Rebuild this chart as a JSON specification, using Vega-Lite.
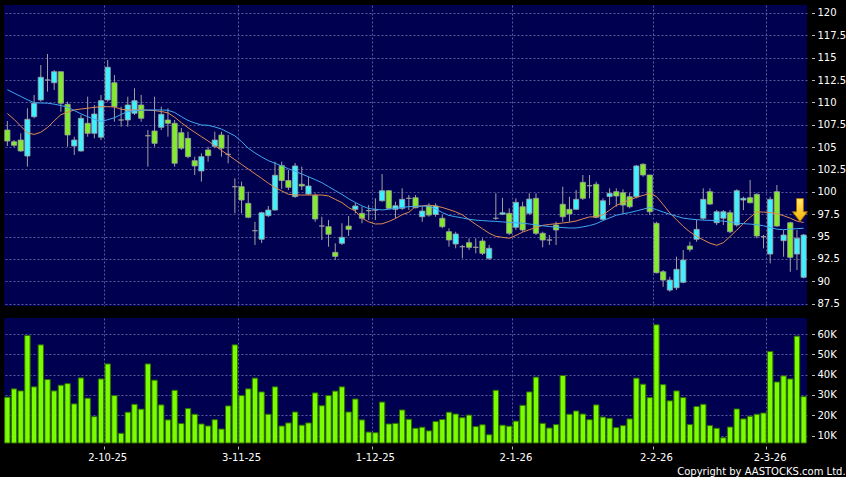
{
"$schema": "https://vega.github.io/schema/vega-lite/v6.json",
"background": "#000000",
"padding": {"left": 4, "top": 5, "right": 0, "bottom": 0},
"spacing": 9,
"title": {"text": "Copyright by AASTOCKS.com Ltd.", "orient": "bottom", "anchor": "end", "frame": "bounds", "color": "#ffffff", "fontSize": 10, "fontWeight": "normal", "font": "DejaVu Sans", "offset": 5, "dx": 0},
"datasets": {
"signal": [{"d": "2026-03-06", "p": 97.96}],
"bars": [
{"d":"2025-09-10","o":106.91,"h":107.92,"l":105.12,"c":105.68,"m10":108.76,"m20":111.42,"v":28900},
{"d":"2025-09-11","o":105.60,"h":105.79,"l":105.01,"c":105.20,"m10":108.11,"m20":111.04,"v":33000},
{"d":"2025-09-12","o":105.79,"h":106.54,"l":104.49,"c":104.56,"m10":107.35,"m20":110.67,"v":32000},
{"d":"2025-09-15","o":104.00,"h":109.34,"l":102.81,"c":108.11,"m10":106.59,"m20":110.29,"v":59300},
{"d":"2025-09-16","o":108.40,"h":110.83,"l":108.22,"c":109.90,"m10":106.42,"m20":109.97,"v":34000},
{"d":"2025-09-17","o":110.27,"h":114.18,"l":110.08,"c":112.81,"m10":106.66,"m20":109.93,"v":54700},
{"d":"2025-09-18","o":112.50,"h":115.41,"l":111.20,"c":112.50,"m10":107.19,"m20":109.91,"v":37600},
{"d":"2025-09-19","o":112.20,"h":113.62,"l":111.39,"c":113.43,"m10":107.94,"m20":109.80,"v":32000},
{"d":"2025-09-22","o":113.43,"h":113.43,"l":108.96,"c":109.90,"m10":108.62,"m20":109.65,"v":34800},
{"d":"2025-09-23","o":109.79,"h":110.08,"l":105.04,"c":106.35,"m10":108.90,"m20":109.47,"v":35600},
{"d":"2025-09-24","o":105.12,"h":106.16,"l":104.12,"c":105.79,"m10":109.16,"m20":109.09,"v":25600},
{"d":"2025-09-25","o":104.56,"h":108.59,"l":104.49,"c":108.22,"m10":109.26,"m20":108.72,"v":38400},
{"d":"2025-09-26","o":107.66,"h":110.64,"l":106.16,"c":106.54,"m10":109.35,"m20":108.40,"v":28400},
{"d":"2025-09-29","o":106.54,"h":109.71,"l":105.98,"c":108.70,"m10":109.44,"m20":108.10,"v":19300},
{"d":"2025-09-30","o":106.10,"h":110.83,"l":105.79,"c":110.19,"m10":109.52,"m20":107.87,"v":37900},
{"d":"2025-10-02","o":110.27,"h":114.74,"l":110.08,"c":113.93,"m10":109.52,"m20":108.06,"v":45300},
{"d":"2025-10-03","o":112.20,"h":113.06,"l":107.84,"c":109.52,"m10":109.49,"m20":108.28,"v":29700},
{"d":"2025-10-06","o":108.03,"h":109.52,"l":107.28,"c":108.03,"m10":109.23,"m20":108.65,"v":11100},
{"d":"2025-10-08","o":108.03,"h":110.64,"l":107.28,"c":109.71,"m10":109.15,"m20":108.97,"v":21500},
{"d":"2025-10-09","o":108.78,"h":111.58,"l":108.59,"c":110.19,"m10":109.15,"m20":109.05,"v":25400},
{"d":"2025-10-10","o":109.71,"h":110.83,"l":107.84,"c":108.22,"m10":109.15,"m20":109.13,"v":23000},
{"d":"2025-10-13","o":106.27,"h":106.91,"l":102.81,"c":106.27,"m10":109.12,"m20":109.15,"v":45300},
{"d":"2025-10-14","o":106.80,"h":110.64,"l":105.04,"c":105.42,"m10":109.08,"m20":109.15,"v":37300},
{"d":"2025-10-15","o":107.21,"h":109.52,"l":106.91,"c":108.67,"m10":108.98,"m20":109.15,"v":25100},
{"d":"2025-10-16","o":108.03,"h":109.34,"l":106.16,"c":107.66,"m10":108.83,"m20":109.12,"v":17700},
{"d":"2025-10-17","o":107.66,"h":108.03,"l":102.81,"c":103.19,"m10":108.34,"m20":108.87,"v":32300},
{"d":"2025-10-20","o":106.61,"h":107.14,"l":104.68,"c":104.87,"m10":107.73,"m20":108.41,"v":15900},
{"d":"2025-10-21","o":105.98,"h":106.72,"l":103.75,"c":103.93,"m10":107.17,"m20":107.98,"v":23300},
{"d":"2025-10-22","o":103.48,"h":103.93,"l":101.88,"c":102.89,"m10":106.66,"m20":107.70,"v":20500},
{"d":"2025-10-23","o":102.33,"h":104.31,"l":101.13,"c":103.93,"m10":106.17,"m20":107.47,"v":15700},
{"d":"2025-10-24","o":104.68,"h":105.04,"l":103.37,"c":104.04,"m10":105.68,"m20":107.44,"v":14700},
{"d":"2025-10-27","o":105.09,"h":106.72,"l":104.87,"c":105.79,"m10":105.16,"m20":107.25,"v":17800},
{"d":"2025-10-28","o":106.35,"h":106.72,"l":103.93,"c":104.87,"m10":104.63,"m20":107.02,"v":13200},
{"d":"2025-10-30","o":104.19,"h":106.35,"l":103.19,"c":104.19,"m10":104.12,"m20":106.64,"v":24600},
{"d":"2025-10-31","o":100.57,"h":101.51,"l":97.59,"c":100.57,"m10":103.59,"m20":106.26,"v":54700},
{"d":"2025-11-03","o":100.57,"h":101.13,"l":97.59,"c":99.08,"m10":103.06,"m20":105.62,"v":29700},
{"d":"2025-11-04","o":98.71,"h":100.01,"l":97.04,"c":97.15,"m10":102.55,"m20":104.88,"v":33000},
{"d":"2025-11-05","o":95.65,"h":96.65,"l":94.05,"c":95.65,"m10":102.02,"m20":104.35,"v":38300},
{"d":"2025-11-06","o":94.69,"h":97.77,"l":94.27,"c":97.66,"m10":101.50,"m20":103.90,"v":31500},
{"d":"2025-11-07","o":97.33,"h":98.41,"l":97.18,"c":97.96,"m10":100.97,"m20":103.49,"v":20500},
{"d":"2025-11-10","o":97.96,"h":103.37,"l":97.91,"c":101.85,"m10":100.48,"m20":103.19,"v":34000},
{"d":"2025-11-11","o":102.94,"h":103.37,"l":100.31,"c":101.26,"m10":100.10,"m20":102.89,"v":14700},
{"d":"2025-11-12","o":101.26,"h":102.44,"l":100.20,"c":100.50,"m10":99.73,"m20":102.58,"v":16200},
{"d":"2025-11-13","o":99.47,"h":103.22,"l":99.31,"c":102.89,"m10":99.64,"m20":102.29,"v":21600},
{"d":"2025-11-14","o":100.84,"h":102.81,"l":100.20,"c":100.65,"m10":99.64,"m20":101.99,"v":15100},
{"d":"2025-11-17","o":99.75,"h":101.69,"l":99.64,"c":100.65,"m10":99.64,"m20":101.68,"v":16200},
{"d":"2025-11-18","o":99.59,"h":99.83,"l":96.65,"c":96.96,"m10":99.64,"m20":101.36,"v":31000},
{"d":"2025-11-19","o":96.17,"h":97.21,"l":94.61,"c":96.17,"m10":99.64,"m20":101.02,"v":24700},
{"d":"2025-11-20","o":96.10,"h":96.84,"l":93.86,"c":95.25,"m10":99.53,"m20":100.58,"v":29700},
{"d":"2025-11-21","o":93.23,"h":94.24,"l":92.37,"c":92.78,"m10":99.16,"m20":100.14,"v":31900},
{"d":"2025-11-24","o":94.24,"h":96.48,"l":94.05,"c":94.91,"m10":98.79,"m20":99.71,"v":34000},
{"d":"2025-11-25","o":96.17,"h":97.29,"l":95.06,"c":95.80,"m10":98.23,"m20":99.22,"v":21600},
{"d":"2025-11-26","o":98.04,"h":98.78,"l":97.59,"c":98.41,"m10":97.85,"m20":98.81,"v":28000},
{"d":"2025-11-27","o":97.59,"h":98.33,"l":96.48,"c":97.04,"m10":97.04,"m20":98.42,"v":17700},
{"d":"2025-11-28","o":97.89,"h":98.52,"l":96.85,"c":97.89,"m10":96.64,"m20":98.13,"v":11700},
{"d":"2025-12-01","o":97.96,"h":99.27,"l":96.85,"c":97.96,"m10":96.40,"m20":98.05,"v":11400},
{"d":"2025-12-02","o":99.00,"h":101.99,"l":98.89,"c":100.12,"m10":96.42,"m20":97.97,"v":26500},
{"d":"2025-12-03","o":100.12,"h":100.20,"l":98.04,"c":98.15,"m10":96.68,"m20":98.05,"v":15700},
{"d":"2025-12-04","o":98.04,"h":98.89,"l":97.04,"c":98.44,"m10":97.01,"m20":98.15,"v":16000},
{"d":"2025-12-05","o":98.15,"h":100.39,"l":97.96,"c":99.16,"m10":97.44,"m20":98.25,"v":22600},
{"d":"2025-12-08","o":99.27,"h":99.64,"l":97.96,"c":99.27,"m10":97.72,"m20":98.34,"v":18000},
{"d":"2025-12-09","o":99.34,"h":99.64,"l":98.15,"c":98.22,"m10":98.35,"m20":98.37,"v":13600},
{"d":"2025-12-10","o":97.21,"h":98.33,"l":96.65,"c":97.85,"m10":98.43,"m20":98.39,"v":14100},
{"d":"2025-12-11","o":98.41,"h":98.71,"l":97.21,"c":97.40,"m10":98.51,"m20":98.41,"v":12300},
{"d":"2025-12-12","o":97.46,"h":98.71,"l":97.21,"c":98.41,"m10":98.42,"m20":98.08,"v":16900},
{"d":"2025-12-15","o":97.04,"h":97.40,"l":95.92,"c":96.10,"m10":98.25,"m20":97.67,"v":17900},
{"d":"2025-12-16","o":95.54,"h":95.92,"l":93.86,"c":94.61,"m10":98.01,"m20":97.36,"v":21500},
{"d":"2025-12-17","o":94.16,"h":95.54,"l":93.68,"c":95.28,"m10":97.76,"m20":97.21,"v":20600},
{"d":"2025-12-18","o":93.86,"h":94.05,"l":92.56,"c":93.86,"m10":97.42,"m20":97.08,"v":18800},
{"d":"2025-12-19","o":94.31,"h":94.80,"l":93.49,"c":93.79,"m10":96.89,"m20":96.93,"v":20100},
{"d":"2025-12-22","o":93.79,"h":94.80,"l":93.12,"c":93.79,"m10":96.36,"m20":96.83,"v":14400},
{"d":"2025-12-23","o":94.50,"h":94.80,"l":92.93,"c":93.12,"m10":95.87,"m20":96.78,"v":15300},
{"d":"2025-12-24","o":92.56,"h":94.05,"l":92.37,"c":93.68,"m10":95.37,"m20":96.73,"v":10400},
{"d":"2025-12-29","o":97.04,"h":99.83,"l":96.85,"c":97.04,"m10":95.02,"m20":96.69,"v":32300},
{"d":"2025-12-30","o":97.48,"h":99.31,"l":97.40,"c":97.66,"m10":94.91,"m20":96.63,"v":15100},
{"d":"2025-12-31","o":97.59,"h":98.15,"l":95.17,"c":95.36,"m10":94.81,"m20":96.59,"v":14600},
{"d":"2026-01-02","o":96.03,"h":99.27,"l":95.73,"c":98.82,"m10":95.12,"m20":96.53,"v":17100},
{"d":"2026-01-05","o":98.33,"h":98.89,"l":95.54,"c":95.73,"m10":95.49,"m20":96.49,"v":24900},
{"d":"2026-01-06","o":97.59,"h":99.83,"l":97.40,"c":99.19,"m10":95.76,"m20":96.40,"v":31500},
{"d":"2026-01-07","o":99.27,"h":99.83,"l":95.17,"c":95.36,"m10":96.01,"m20":96.30,"v":38800},
{"d":"2026-01-08","o":95.36,"h":95.54,"l":93.79,"c":94.61,"m10":96.25,"m20":96.20,"v":16000},
{"d":"2026-01-09","o":94.61,"h":95.17,"l":94.05,"c":94.61,"m10":96.35,"m20":96.11,"v":13700},
{"d":"2026-01-12","o":96.29,"h":96.65,"l":94.05,"c":95.73,"m10":96.43,"m20":96.05,"v":15400},
{"d":"2026-01-13","o":98.60,"h":100.57,"l":96.65,"c":97.21,"m10":96.51,"m20":96.00,"v":39600},
{"d":"2026-01-14","o":98.04,"h":99.45,"l":96.65,"c":97.52,"m10":96.60,"m20":95.95,"v":20500},
{"d":"2026-01-15","o":98.04,"h":100.20,"l":97.96,"c":99.16,"m10":96.74,"m20":95.96,"v":22100},
{"d":"2026-01-16","o":101.06,"h":101.88,"l":99.08,"c":99.27,"m10":96.97,"m20":96.08,"v":20600},
{"d":"2026-01-19","o":100.68,"h":101.88,"l":99.27,"c":100.68,"m10":97.19,"m20":96.22,"v":17800},
{"d":"2026-01-20","o":100.84,"h":101.13,"l":97.04,"c":97.15,"m10":97.21,"m20":96.44,"v":25100},
{"d":"2026-01-21","o":96.92,"h":99.27,"l":96.85,"c":99.00,"m10":97.43,"m20":96.78,"v":19100},
{"d":"2026-01-22","o":99.47,"h":100.39,"l":98.52,"c":99.83,"m10":97.95,"m20":97.08,"v":18500},
{"d":"2026-01-23","o":100.01,"h":100.39,"l":98.33,"c":99.53,"m10":98.48,"m20":97.38,"v":13900},
{"d":"2026-01-26","o":99.90,"h":100.28,"l":97.59,"c":98.52,"m10":98.80,"m20":97.54,"v":14900},
{"d":"2026-01-27","o":99.45,"h":99.90,"l":98.15,"c":98.33,"m10":99.10,"m20":97.68,"v":18200},
{"d":"2026-01-28","o":99.45,"h":103.00,"l":99.27,"c":102.89,"m10":99.37,"m20":97.86,"v":38300},
{"d":"2026-01-29","o":103.08,"h":103.19,"l":101.69,"c":101.88,"m10":99.60,"m20":98.05,"v":35300},
{"d":"2026-01-30","o":101.88,"h":101.88,"l":97.40,"c":97.77,"m10":99.82,"m20":98.25,"v":28700},
{"d":"2026-02-02","o":96.48,"h":96.65,"l":90.88,"c":90.95,"m10":99.47,"m20":98.01,"v":64600},
{"d":"2026-02-03","o":91.06,"h":91.25,"l":89.38,"c":90.13,"m10":98.58,"m20":97.74,"v":35100},
{"d":"2026-02-04","o":89.01,"h":90.50,"l":88.82,"c":90.13,"m10":97.64,"m20":97.49,"v":27100},
{"d":"2026-02-05","o":89.27,"h":92.74,"l":89.01,"c":91.33,"m10":96.88,"m20":97.27,"v":32000},
{"d":"2026-02-06","o":89.88,"h":93.49,"l":89.76,"c":92.37,"m10":96.13,"m20":97.05,"v":28700},
{"d":"2026-02-09","o":93.94,"h":94.42,"l":93.30,"c":93.57,"m10":95.51,"m20":96.96,"v":15400},
{"d":"2026-02-10","o":94.69,"h":96.85,"l":94.42,"c":95.80,"m10":95.04,"m20":96.89,"v":24300},
{"d":"2026-02-11","o":97.04,"h":100.39,"l":96.85,"c":99.16,"m10":94.62,"m20":96.83,"v":25400},
{"d":"2026-02-12","o":100.01,"h":100.39,"l":98.52,"c":98.63,"m10":94.25,"m20":96.81,"v":14900},
{"d":"2026-02-13","o":96.54,"h":97.96,"l":96.29,"c":97.77,"m10":94.02,"m20":96.78,"v":13600},
{"d":"2026-02-16","o":97.04,"h":97.96,"l":96.29,"c":97.77,"m10":94.31,"m20":96.72,"v":8900},
{"d":"2026-02-20","o":97.66,"h":97.96,"l":95.36,"c":95.54,"m10":95.00,"m20":96.62,"v":14200},
{"d":"2026-02-23","o":96.29,"h":100.28,"l":96.10,"c":100.12,"m10":95.72,"m20":96.52,"v":23100},
{"d":"2026-02-24","o":99.08,"h":99.45,"l":97.96,"c":99.27,"m10":96.46,"m20":96.44,"v":18200},
{"d":"2026-02-25","o":99.34,"h":101.32,"l":98.71,"c":98.78,"m10":97.15,"m20":96.39,"v":19500},
{"d":"2026-02-26","o":99.72,"h":99.83,"l":94.80,"c":95.06,"m10":97.76,"m20":96.32,"v":20500},
{"d":"2026-02-27","o":94.98,"h":95.17,"l":93.68,"c":94.98,"m10":97.73,"m20":96.20,"v":21100},
{"d":"2026-03-02","o":93.04,"h":99.45,"l":92.00,"c":99.16,"m10":97.68,"m20":96.01,"v":51400},
{"d":"2026-03-03","o":100.01,"h":100.76,"l":96.10,"c":96.17,"m10":97.55,"m20":95.82,"v":36400},
{"d":"2026-03-04","o":94.53,"h":95.73,"l":92.74,"c":95.17,"m10":97.33,"m20":95.76,"v":39400},
{"d":"2026-03-05","o":96.54,"h":96.65,"l":91.06,"c":92.67,"m10":97.05,"m20":95.83,"v":37900},
{"d":"2026-03-06","o":93.04,"h":95.73,"l":91.25,"c":94.80,"m10":96.72,"m20":95.88,"v":59000},
{"d":"2026-03-09","o":90.44,"h":95.28,"l":90.32,"c":95.17,"m10":96.57,"m20":95.92,"v":29200}
]
},
"vconcat": [
{
"width": 803, "height": 301,
"data": {"name": "bars"},
"encoding": {
"x": {"field": "d", "type": "ordinal", "scale": {"paddingInner": 0, "paddingOuter": 0},
"axis": {"values": ["2025-10-02","2025-11-03","2025-12-01","2026-01-02","2026-02-02","2026-03-02"], "bandPosition": 0, "labels": false, "ticks": false, "domain": false, "grid": true, "title": null}}
},
"layer": [
{"mark": {"type": "rule", "color": "#a0a0a0", "strokeWidth": 1},
"encoding": {
"y": {"field": "l", "type": "quantitative", "scale": {"domain": [87.23, 120.89], "zero": false, "nice": false},
"axis": {"orient": "right", "values": [87.5,90,92.5,95,97.5,100,102.5,105,107.5,110,112.5,115,117.5,120], "labelExpr": "toString(datum.value)", "labelOverlap": false, "labelSeparation": 0, "labelBound": false, "offset": 4.5, "tickSize": 3, "labelPadding": 2.5, "domain": false, "grid": true, "title": null}},
"y2": {"field": "h"}}},
{"mark": {"type": "bar", "width": {"band": 0.78}, "stroke": "#a0a0a0", "strokeWidth": 0.8},
"encoding": {
"y": {"field": "o", "type": "quantitative", "scale": {"domain": [87.23, 120.89], "zero": false, "nice": false},
"axis": {"orient": "right", "values": [87.5,90,92.5,95,97.5,100,102.5,105,107.5,110,112.5,115,117.5,120], "labelExpr": "toString(datum.value)", "labelOverlap": false, "labelSeparation": 0, "labelBound": false, "offset": 4.5, "tickSize": 3, "labelPadding": 2.5, "domain": false, "grid": true, "title": null}},
"y2": {"field": "c"},
"fill": {"condition": [{"test": "datum.c > datum.o", "value": "#3ff0ff"}, {"test": "datum.c < datum.o", "value": "#82ec2c"}], "value": "#a0a0a0"}}},
{"mark": {"type": "line", "color": "#e08a50", "strokeWidth": 1},
"encoding": {"y": {"field": "m10", "type": "quantitative", "scale": {"domain": [87.23, 120.89], "zero": false, "nice": false},
"axis": {"orient": "right", "values": [87.5,90,92.5,95,97.5,100,102.5,105,107.5,110,112.5,115,117.5,120], "labelExpr": "toString(datum.value)", "labelOverlap": false, "labelSeparation": 0, "labelBound": false, "offset": 4.5, "tickSize": 3, "labelPadding": 2.5, "domain": false, "grid": true, "title": null}}}},
{"mark": {"type": "line", "color": "#40a8f0", "strokeWidth": 1},
"encoding": {"y": {"field": "m20", "type": "quantitative", "scale": {"domain": [87.23, 120.89], "zero": false, "nice": false},
"axis": {"orient": "right", "values": [87.5,90,92.5,95,97.5,100,102.5,105,107.5,110,112.5,115,117.5,120], "labelExpr": "toString(datum.value)", "labelOverlap": false, "labelSeparation": 0, "labelBound": false, "offset": 4.5, "tickSize": 3, "labelPadding": 2.5, "domain": false, "grid": true, "title": null}}}},
{"data": {"name": "signal"},
"mark": {"type": "point", "shape": "M-0.3,-1L0.3,-1L0.3,0.15L0.65,0.15L0,1L-0.65,0.15L-0.3,0.15Z", "size": 529, "filled": true, "opacity": 1, "xOffset": 3,
"fill": {"gradient": "linear", "x1": 0, "y1": 0, "x2": 0, "y2": 1, "stops": [{"offset": 0, "color": "#ffec70"}, {"offset": 1, "color": "#f5b000"}]},
"stroke": "#a86a00", "strokeWidth": 1},
"encoding": {"y": {"field": "p", "type": "quantitative", "scale": {"domain": [87.23, 120.89], "zero": false, "nice": false},
"axis": {"orient": "right", "values": [87.5,90,92.5,95,97.5,100,102.5,105,107.5,110,112.5,115,117.5,120], "labelExpr": "toString(datum.value)", "labelOverlap": false, "labelSeparation": 0, "labelBound": false, "offset": 4.5, "tickSize": 3, "labelPadding": 2.5, "domain": false, "grid": true, "title": null}}}}
]
},
{
"width": 803, "height": 125,
"data": {"name": "bars"},
"mark": {"type": "bar", "width": {"band": 0.8}, "fill": "#7cfc00", "stroke": "#2e7000", "strokeWidth": 1},
"encoding": {
"x": {"field": "d", "type": "ordinal", "scale": {"paddingInner": 0, "paddingOuter": 0},
"axis": {"values": ["2025-10-02","2025-11-03","2025-12-01","2026-01-02","2026-02-02","2026-03-02"], "bandPosition": 0,
"labelExpr": "toNumber(substring(datum.value,8,10)) + '-' + toNumber(substring(datum.value,5,7)) + '-' + substring(datum.value,2,4)",
"labelAngle": 0, "ticks": true, "tickSize": 3, "offset": 3, "labelPadding": 3, "domain": false, "grid": true, "title": null}},
"y": {"field": "v", "type": "quantitative", "scale": {"domain": [6320, 67950], "zero": false, "nice": false},
"axis": {"orient": "right", "values": [10000,20000,30000,40000,50000,60000], "labelExpr": "(datum.value/1000) + 'K'", "labelOverlap": false, "offset": 4.5, "tickSize": 3, "labelPadding": 2.5, "domain": false, "grid": true, "title": null}},
"y2": {"datum": 6320}
}
}
],
"config": {
"font": "DejaVu Sans",
"view": {"fill": "#000050", "stroke": null},
"axis": {"gridColor": "#5a5a9a", "gridDash": [2, 2], "gridWidth": 1, "gridOpacity": 1, "labelColor": "#ffffff", "labelFontSize": 10, "tickColor": "#bbbbbb", "labelFont": "DejaVu Sans"}
}
}
